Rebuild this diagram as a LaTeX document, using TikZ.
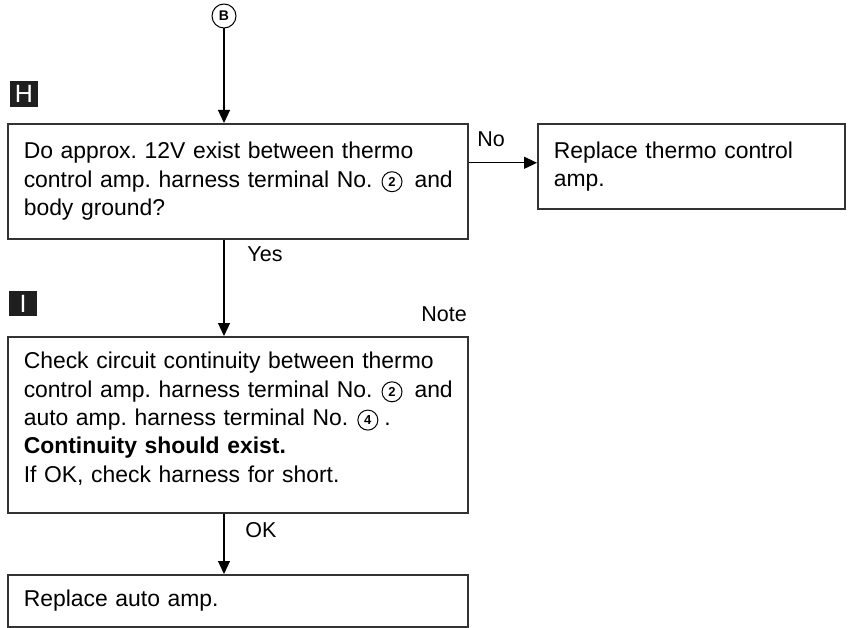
\documentclass[tikz,border=0pt]{standalone}
\usepackage{fontspec}
\setmainfont{Liberation Sans}
\usetikzlibrary{arrows.meta}
\frenchspacing
\newcommand\cnum[1]{\tikz[baseline={([yshift=-5.5pt]cn#1.center)}]\node[circle, draw=black, line width=1pt, inner sep=0pt, minimum size=20pt, anchor=center, align=center, text width={}, text=black, fill=none, font=\fontsize{13}{13}\bfseries\selectfont] (cn#1) {#1};}
\begin{document}
\begin{tikzpicture}[x=1pt,y=-1pt,
  box/.style={draw=black!80, line width=1.6pt, align=left, inner xsep=16pt, inner ysep=0pt, font=\fontsize{22.9}{28.3}\selectfont},
  arr/.style={line width=1.2pt, -{Triangle[length=13pt,width=12pt]}},
  lbl/.style={font=\fontsize{21.5}{24}\selectfont, inner sep=0pt},
  icon/.style={fill=black!88, text=white, inner sep=0pt, minimum width=28pt, minimum height=26pt, font=\fontsize{25}{25}\selectfont},
]
\useasboundingbox (0,0) rectangle (848,628);

\node[circle, draw, line width=1pt, minimum size=24pt, inner sep=0pt, font=\fontsize{14}{14}\bfseries\selectfont] (b) at (224,16) {B};

\node[icon] (iconH) at (24,94) {H};
\node[icon, minimum height=25pt] (iconI) at (23,303.5) {I};

\node[box, anchor=north west, minimum width=460pt, minimum height=115pt, text width=428pt] (q1) at (7,123)
  {Do approx. 12V exist between thermo\\
   \mbox{control amp. harness terminal No.\hspace{9pt}\cnum{2}\hspace{12pt}and}\\
   body ground?};

\node[box, anchor=north west, minimum width=307pt, minimum height=85pt, text width=275pt] (r) at (537,123)
  {Replace thermo control\\ amp.};

\node[box, anchor=north west, minimum width=460pt, minimum height=176pt, text width=428pt] (q2) at (7,336)
  {Check circuit continuity between thermo\\
   \mbox{control amp. harness terminal No.\hspace{9pt}\cnum{2}\hspace{12pt}and}\\
   \mbox{auto amp. harness terminal No.\hspace{9pt}\cnum{4}\hspace{6pt}.}\\
   \textbf{Continuity should exist.}\\
   If OK, check harness for short.\rule[-15pt]{0pt}{1pt}};

\node[box, anchor=north west, minimum width=460pt, minimum height=52pt, text width=428pt] (q3) at (7,574)
  {Replace auto amp.};

\node[lbl] (lno) at (491,139) {No};
\node[lbl] (lyes) at (265,254) {Yes};
\node[lbl] (lnote) at (444,314) {Note};
\node[lbl] (lok) at (261,530) {OK};

\coordinate (rin) at ([yshift=3.5pt]r.west);
\draw[arr] (b) -- (b |- q1.north);
\draw[arr] (q1.south -| b) -- (q2.north -| b);
\draw[arr] (q2.south -| b) -- (q3.north -| b);
\draw[arr] (q1.east |- rin) -- (rin);
\end{tikzpicture}
\end{document}
